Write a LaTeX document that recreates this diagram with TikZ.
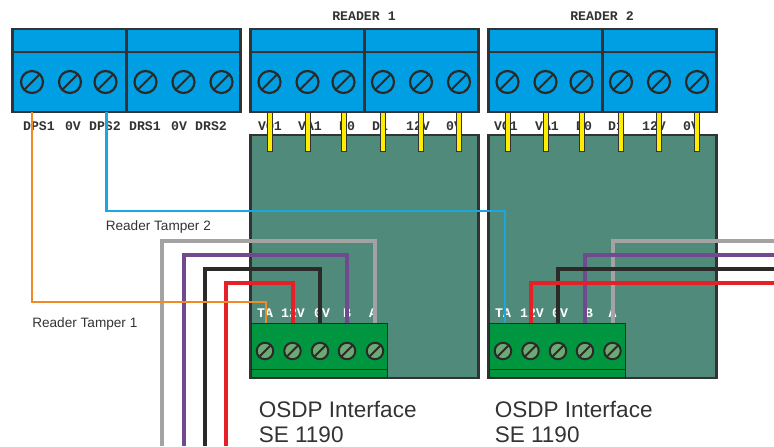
\documentclass[tikz,border=0pt]{standalone}
\usepackage{fontspec}
\setmainfont{Liberation Sans}
\newfontfamily\pinfont{Liberation Mono}
\newlength{\du}
\setlength{\du}{0.75pt}
\definecolor{termblue}{HTML}{009FE3}
\definecolor{termgreen}{HTML}{009640}
\definecolor{boardgreen}{HTML}{4F8A7B}
\definecolor{screwgreen}{HTML}{6BAA72}
\definecolor{edgegrey}{HTML}{333333}
\definecolor{pinyellow}{HTML}{FFED00}
\definecolor{wireorange}{HTML}{F08A24}
\definecolor{wireblue}{HTML}{1BA6E0}
\definecolor{wiregrey}{HTML}{A3A3A3}
\definecolor{wirepurple}{HTML}{6F4A8E}
\definecolor{wireblack}{HTML}{2B2A29}
\definecolor{wirered}{HTML}{E52127}
\tikzset{
  halfblock/.style={draw=edgegrey,fill=termblue,line width=2.2\du,inner sep=0pt,outer sep=0pt,minimum width=114\du,minimum height=83\du},
  board/.style={draw=edgegrey,fill=boardgreen,line width=2.2\du,inner sep=0pt,outer sep=0pt,minimum width=228\du,minimum height=243\du},
  plugblock/.style={draw=wireblack,fill=termgreen,line width=1\du,inner sep=0pt,outer sep=0pt,minimum width=136\du,minimum height=54\du},
  bigscrew/.style={circle,draw=wireblack,line width=2.2\du,inner sep=0pt,outer sep=0pt,minimum size=22\du,
    path picture={\draw[wireblack,line width=2\du] (path picture bounding box.south west)--(path picture bounding box.north east);}},
  smallscrew/.style={circle,draw=wireblack,fill=screwgreen,line width=2\du,inner sep=0pt,outer sep=0pt,minimum size=16.5\du,
    path picture={\draw[wireblack,line width=2\du] (path picture bounding box.south west)--(path picture bounding box.north east);}},
  pinlabel/.style={font=\pinfont\bfseries\fontsize{9.9}{11}\selectfont,text=edgegrey,inner sep=0pt},
  plugpinlabel/.style={pinlabel,text=white},
  caption/.style={font=\fontsize{16.9}{18.75}\selectfont,text=edgegrey,inner sep=0pt,anchor=base west},
  wirelabel/.style={font=\fontsize{10.2}{12}\selectfont,text=edgegrey,inner sep=0pt,anchor=base west},
  pin/.style={draw=edgegrey,fill=pinyellow,line width=0.7\du,minimum width=5\du,minimum height=39\du,inner sep=0pt,outer sep=0pt,anchor=north},
  thinwire/.style={line width=2.6\du},
  thickwire/.style={line width=4\du}
}
\begin{document}
\begin{tikzpicture}
\pgftransformxscale{1.000000}
\pgftransformyscale{-1.000000}
\useasboundingbox (0\du,0\du) rectangle (774\du,446\du);
% boards
\node[board] (boardone) at (364.5\du,256.5\du) {};
\node[board] (boardtwo) at (602.5\du,256.5\du) {};
% reader labels
\node[pinlabel] (readerone) at (364\du,16\du) {READER 1};
\node[pinlabel] (readertwo) at (602\du,16\du) {READER 2};
% top terminal blocks
\node[halfblock] (alarmleft) at (69.5\du,70.5\du) {};
\node[halfblock] (alarmright) at (183.5\du,70.5\du) {};
\node[halfblock] (oneleft) at (307.5\du,70.5\du) {};
\node[halfblock] (oneright) at (421.5\du,70.5\du) {};
\node[halfblock] (twoleft) at (545.5\du,70.5\du) {};
\node[halfblock] (tworight) at (659.5\du,70.5\du) {};
\foreach \blk in {alarmleft,alarmright,oneleft,oneright,twoleft,tworight}{
  \draw[edgegrey,line width=2.2\du] (\blk.west |- 0\du,52\du)--(\blk.east |- 0\du,52\du);
}
% screws in the top blocks
\foreach \nm/\xx in {dpsone/32,dpszero/70,dpstwo/105.5,drsone/145.5,drszero/183.5,drstwo/221.5,
  voone/269.5,vaone/307.5,dzone/343.5,doone/383,vpone/421,vzone/459,
  votwo/507.5,vatwo/545.5,dztwo/581.5,dotwo/621,vptwo/659,vztwo/697}{
  \node[bigscrew] (\nm) at (\xx\du,82\du) {};
}
% labels under the top blocks
\foreach \txt/\xx in {DPS1/39,0V/73,DPS2/105,DRS1/145,0V/179,DRS2/211,
  VO1/270,VA1/310,D0/347,D1/380,12V/418,0V/454,
  VO1/506,VA1/547,D0/584,D1/616,12V/654,0V/691}{
  \node[pinlabel] at (\xx\du,126\du) {\txt};
}
% pins
\foreach \nm in {voone,vaone,dzone,doone,vpone,vzone,votwo,vatwo,dztwo,dotwo,vptwo,vztwo}{
  \node[pin] at (\nm |- 0\du,112\du) {};
}
% labels on the plug blocks
\foreach \txt/\xx in {TA/265,12V/293,0V/322,B/347,A/373,TA/503,12V/532,0V/560,B/589,A/612.5}{
  \node[plugpinlabel] at (\xx\du,313\du) {\txt};
}
% plug blocks
\node[plugblock] (plugone) at (319\du,350\du) {};
\node[plugblock] (plugtwo) at (557.5\du,350\du) {};
\draw[wireblack,line width=1\du] (plugone.west |- 0\du,369\du)--(plugone.east |- 0\du,369\du);
\draw[wireblack,line width=1\du] (plugtwo.west |- 0\du,369\du)--(plugtwo.east |- 0\du,369\du);
\foreach \nm/\xx in {taone/265,ponev/292.5,zone/320,bone/347,aone/375,
  tatwo/503,ptwov/530.5,ztwo/558,btwo/585,atwo/612.5}{
  \node[smallscrew] (\nm) at (\xx\du,351\du) {};
}
% free ends of the wires
\coordinate (greyoff) at (162\du,446\du);
\coordinate (purpleoff) at (184\du,446\du);
\coordinate (blackoff) at (205\du,446\du);
\coordinate (redoff) at (226\du,446\du);
\coordinate (greyout) at (774\du,241\du);
\coordinate (purpleout) at (774\du,254.5\du);
\coordinate (blackout) at (774\du,268.5\du);
\coordinate (redout) at (774\du,283\du);
\coordinate (tamperstart) at (106.5\du,112\du);
\coordinate (tamperend) at (505\du,323\du);
% wires of reader 1
\draw[thickwire,wiregrey] (greyoff) |- (375\du,241\du)--(aone |- plugone.north);
\draw[thickwire,wirepurple] (purpleoff) |- (347\du,254.5\du)--(bone |- plugone.north);
\draw[thickwire,wireblack] (blackoff) |- (320\du,268.5\du)--(zone |- plugone.north);
\draw[thickwire,wirered] (redoff) |- (292.5\du,283\du)--(ponev |- plugone.north);
% wires of reader 2
\draw[thickwire,wiregrey] (greyout) -| (atwo |- plugtwo.north);
\draw[thickwire,wirepurple] (purpleout) -| (btwo |- plugtwo.north);
\draw[thickwire,wireblack] (blackout) -| (ztwo |- plugtwo.north);
\draw[thickwire,wirered] (redout) -| (ptwov |- plugtwo.north);
% tamper wires
\draw[thinwire,wireorange] (dpsone |- alarmleft.south) |- (266\du,302\du)--(266\du,323\du);
\draw[thinwire,wireblue] (tamperstart) |- (tamperend |- 0\du,211\du)--(tamperend);
% texts
\node[wirelabel] (tampertwo) at (105.5\du,230\du) {Reader Tamper 2};
\node[wirelabel] (tamperone) at (32\du,327\du) {Reader Tamper 1};
\node[caption] (osdpone) at (258.5\du,417\du) {OSDP Interface};
\node[caption] (seone) at (258.5\du,442\du) {SE 1190};
\node[caption] (osdptwo) at (494.5\du,417\du) {OSDP Interface};
\node[caption] (setwo) at (494.5\du,442\du) {SE 1190};
\end{tikzpicture}
\end{document}
